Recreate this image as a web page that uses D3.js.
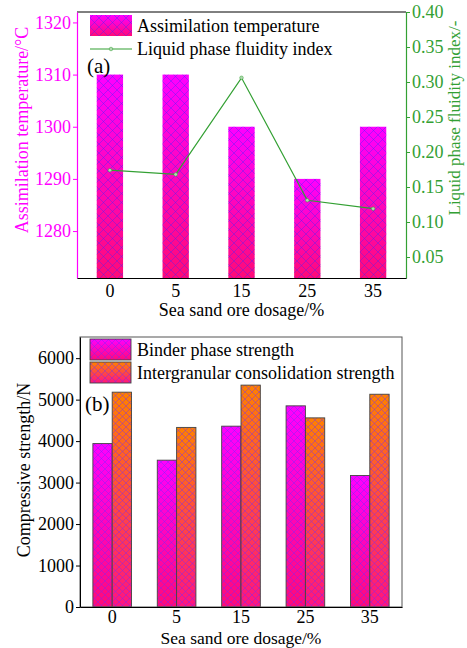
<!DOCTYPE html>
<html>
<head>
<meta charset="utf-8">
<script src="https://cdn.jsdelivr.net/npm/d3@7"></script>
<style>
  body { margin: 0; background: #fff; }
  svg text { font-family: "Liberation Serif", "Times New Roman", serif; }
</style>
</head>
<body>
<svg id="chart" width="467" height="648"></svg>
<script>
// data
const dosage = ['0', '5', '15', '25', '35'];
const assimTemp = [1310, 1310, 1300, 1290, 1300];
const fluidity = [0.174, 0.168, 0.306, 0.131, 0.119];
const binderStrength = [3940, 3540, 4360, 4850, 3170];
const interStrength = [5180, 4330, 5350, 4560, 5130];
const tempTicks = [1280, 1290, 1300, 1310, 1320];
const fluidTicks = [0.05, 0.10, 0.15, 0.20, 0.25, 0.30, 0.35, 0.40];
const strengthTicks = [0, 1000, 2000, 3000, 4000, 5000, 6000];

const svg = d3.select('svg#chart');
const defs = svg.append('defs');

const MAG = '#ff00ff';
const GRN = '#33a033';
const FS = 18;

function gradient(id, top, bottom) {
  const g = defs.append('linearGradient').attr('id', id)
    .attr('x1', 0).attr('y1', 0).attr('x2', 0).attr('y2', 1);
  g.append('stop').attr('offset', '0%').attr('stop-color', top);
  g.append('stop').attr('offset', '100%').attr('stop-color', bottom);
}
function hatch(id, size, color) {
  const p = defs.append('pattern').attr('id', id)
    .attr('patternUnits', 'userSpaceOnUse')
    .attr('width', size).attr('height', size);
  p.append('path')
    .attr('d', `M0,0L${size},${size}M${size},0L0,${size}`)
    .attr('stroke', color).attr('stroke-width', 0.7).attr('fill', 'none');
}
gradient('gMag', '#ff00ff', '#ff0a78');
gradient('gOra', '#ff8000', '#ff1480');
hatch('hatchA', 9, 'rgba(60,40,255,0.55)');
hatch('hatchB', 7, 'rgba(110,40,255,0.6)');

// ---------- panel (a) ----------
const A = { l: 77, r: 406, t: 12, b: 278 };

const xa = d3.scaleBand().domain(dosage).range([A.l, A.r])
  .paddingInner(0.6).paddingOuter(0.3);
const ya = d3.scaleLinear().domain([1271, 1322]).range([A.b, A.t]);
const yf = d3.scaleLinear().domain([0.02, 0.40]).range([A.b, A.t]);

const barsA = svg.append('g').selectAll('g').data(assimTemp).enter().append('g');
barsA.append('rect')
  .attr('x', (d, i) => xa(dosage[i])).attr('y', d => ya(d))
  .attr('width', xa.bandwidth()).attr('height', d => A.b - ya(d))
  .attr('fill', 'url(#gMag)');
barsA.append('rect')
  .attr('x', (d, i) => xa(dosage[i])).attr('y', d => ya(d))
  .attr('width', xa.bandwidth()).attr('height', d => A.b - ya(d))
  .attr('fill', 'url(#hatchA)');

const line = d3.line()
  .x((d, i) => xa(dosage[i]) + xa.bandwidth() / 2)
  .y(d => yf(d));
svg.append('path').datum(fluidity)
  .attr('d', line).attr('fill', 'none')
  .attr('stroke', GRN).attr('stroke-width', 1.2);
svg.append('g').selectAll('circle').data(fluidity).enter().append('circle')
  .attr('cx', (d, i) => xa(dosage[i]) + xa.bandwidth() / 2)
  .attr('cy', d => yf(d)).attr('r', 1.8)
  .attr('fill', '#b0d8b0').attr('stroke', GRN).attr('stroke-width', 0.5);

// frame top
svg.append('line').attr('x1', A.l).attr('x2', A.r).attr('y1', A.t).attr('y2', A.t)
  .attr('stroke', '#000').attr('stroke-width', 1);

const axLeftA = svg.append('g').attr('transform', `translate(${A.l},0)`)
  .call(d3.axisLeft(ya).tickValues(tempTicks).tickFormat(d3.format('d')).tickSize(4).tickSizeOuter(0));
axLeftA.select('.domain').attr('stroke', MAG).attr('stroke-width', 1.2);
axLeftA.selectAll('.tick line').attr('stroke', MAG);
axLeftA.selectAll('.tick text').attr('fill', MAG).attr('font-size', FS).attr('x', -6);

const axRightA = svg.append('g').attr('transform', `translate(${A.r},0)`)
  .call(d3.axisRight(yf).tickValues(fluidTicks).tickFormat(d3.format('.2f')).tickSize(4).tickSizeOuter(0));
axRightA.select('.domain').attr('stroke', GRN).attr('stroke-width', 1.2);
axRightA.selectAll('.tick line').attr('stroke', GRN);
axRightA.selectAll('.tick text').attr('fill', GRN).attr('font-size', FS).attr('x', 6);

const axBottomA = svg.append('g').attr('transform', `translate(0,${A.b})`)
  .call(d3.axisBottom(xa).tickSize(0).tickPadding(6));
axBottomA.select('.domain').attr('stroke', '#000').attr('stroke-width', 1.2);
axBottomA.selectAll('.tick text').attr('fill', '#000').attr('font-size', FS);

svg.append('text').attr('transform', 'translate(28,130) rotate(-90)')
  .attr('text-anchor', 'middle').attr('fill', MAG).attr('font-size', FS)
  .text('Assimilation temperature/°C');
svg.append('text').attr('transform', 'translate(460,118) rotate(-90)')
  .attr('text-anchor', 'middle').attr('fill', GRN).attr('font-size', 17)
  .text('Liquid phase fluidity index/-');
svg.append('text').attr('x', (A.l + A.r) / 2).attr('y', 316)
  .attr('text-anchor', 'middle').attr('font-size', FS)
  .text('Sea sand ore dosage/%');

// legend (a)
const legA = svg.append('g');
legA.append('rect').attr('x', 90).attr('y', 15).attr('width', 42).attr('height', 21).attr('fill', 'url(#gMag)');
legA.append('rect').attr('x', 90).attr('y', 15).attr('width', 42).attr('height', 21).attr('fill', 'url(#hatchA)');
legA.append('text').attr('x', 137).attr('y', 32).attr('font-size', FS).text('Assimilation temperature');
legA.append('line').attr('x1', 90).attr('x2', 132).attr('y1', 49).attr('y2', 49)
  .attr('stroke', GRN).attr('stroke-width', 1.2);
legA.append('circle').attr('cx', 111).attr('cy', 49).attr('r', 1.8)
  .attr('fill', '#b0d8b0').attr('stroke', GRN).attr('stroke-width', 0.5);
legA.append('text').attr('x', 137).attr('y', 55).attr('font-size', FS).text('Liquid phase fluidity index');
svg.append('text').attr('x', 87).attr('y', 73).attr('font-size', 21).text('(a)');

// ---------- panel (b) ----------
const B = { l: 80, r: 402, t: 337, b: 607 };
const xb = d3.scaleBand().domain(dosage).range([B.l, B.r])
  .paddingInner(0.4).paddingOuter(0.2);
const xs = d3.scaleBand().domain(['binder', 'inter']).range([0, xb.bandwidth()]);
const yb = d3.scaleLinear().domain([0, 6510]).range([B.b, B.t]);

const series = [
  { key: 'binder', values: binderStrength, fill: 'url(#gMag)' },
  { key: 'inter', values: interStrength, fill: 'url(#gOra)' }
];
series.forEach(s => {
  const g = svg.append('g');
  g.selectAll('rect.fill').data(s.values).enter().append('rect')
    .attr('class', 'fill')
    .attr('x', (d, i) => xb(dosage[i]) + xs(s.key)).attr('y', d => yb(d))
    .attr('width', xs.bandwidth()).attr('height', d => B.b - yb(d))
    .attr('fill', s.fill);
  g.selectAll('rect.hat').data(s.values).enter().append('rect')
    .attr('class', 'hat')
    .attr('x', (d, i) => xb(dosage[i]) + xs(s.key)).attr('y', d => yb(d))
    .attr('width', xs.bandwidth()).attr('height', d => B.b - yb(d))
    .attr('fill', 'url(#hatchB)').attr('stroke', '#444').attr('stroke-width', 0.9);
});

svg.append('rect').attr('x', B.l).attr('y', B.t).attr('width', B.r - B.l).attr('height', B.b - B.t)
  .attr('fill', 'none').attr('stroke', '#555').attr('stroke-width', 1);

const axLeftB = svg.append('g').attr('transform', `translate(${B.l},0)`)
  .call(d3.axisLeft(yb).tickValues(strengthTicks).tickFormat(d3.format('d')).tickSize(4).tickSizeOuter(0));
axLeftB.select('.domain').attr('stroke', '#000');
axLeftB.selectAll('.tick text').attr('font-size', FS).attr('fill', '#000').attr('x', -6);

const axBottomB = svg.append('g').attr('transform', `translate(0,${B.b})`)
  .call(d3.axisBottom(xb).tickSize(0).tickPadding(3));
axBottomB.select('.domain').attr('stroke', '#000').attr('stroke-width', 1.2);
axBottomB.selectAll('.tick text').attr('fill', '#000').attr('font-size', FS);

svg.append('text').attr('transform', 'translate(30,470) rotate(-90)')
  .attr('text-anchor', 'middle').attr('font-size', FS)
  .text('Compressive strength/N');
svg.append('text').attr('x', (B.l + B.r) / 2).attr('y', 644)
  .attr('text-anchor', 'middle').attr('font-size', 17.5)
  .text('Sea sand ore dosage/%');

// legend (b)
const legB = svg.append('g');
[['Binder phase strength', 'url(#gMag)', 339], ['Intergranular consolidation strength', 'url(#gOra)', 362]]
  .forEach(([label, fill, y]) => {
    legB.append('rect').attr('x', 90).attr('y', y).attr('width', 41).attr('height', 21).attr('fill', fill);
    legB.append('rect').attr('x', 90).attr('y', y).attr('width', 41).attr('height', 21)
      .attr('fill', 'url(#hatchB)').attr('stroke', '#444').attr('stroke-width', 0.9);
    legB.append('text').attr('x', 137).attr('y', y + 17).attr('font-size', FS).text(label);
  });
svg.append('text').attr('x', 85).attr('y', 411).attr('font-size', 21).text('(b)');
</script>
</body>
</html>
